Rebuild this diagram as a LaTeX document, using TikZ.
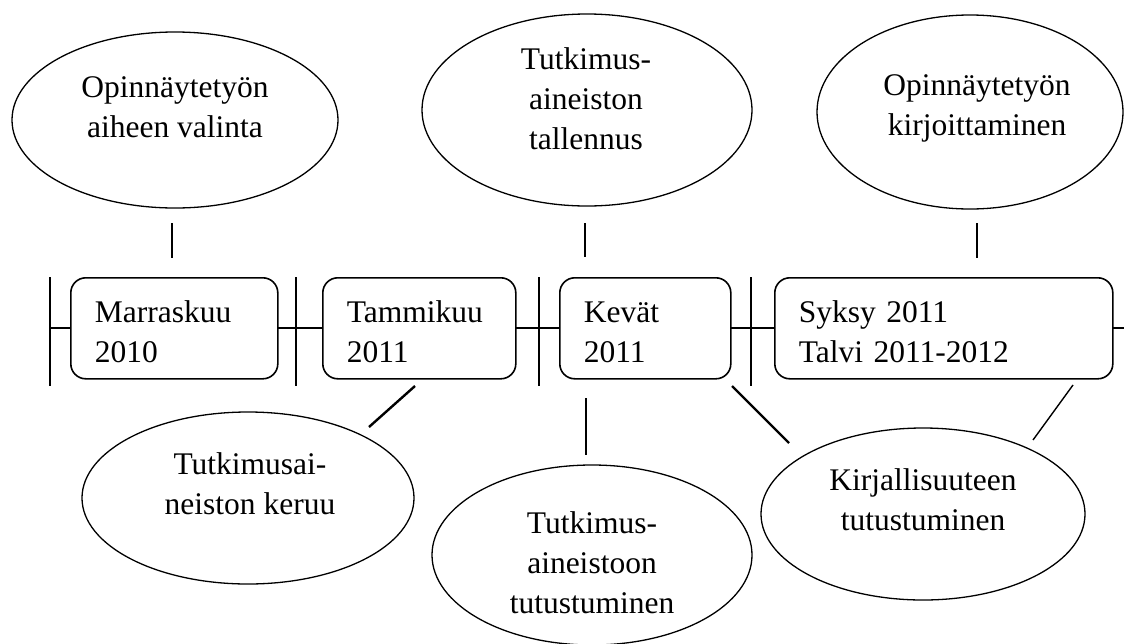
\documentclass[tikz,border=0pt]{standalone}
\usepackage{fontspec}
\setmainfont{Liberation Serif}
\usetikzlibrary{shapes.geometric, positioning}

\tikzset{
  kausi/.style={draw, line width=1.6pt, rounded corners=15pt, fill=white, anchor=north west, minimum height=101pt, inner xsep=24pt, inner ysep=0pt, text depth=33pt, align=left},
  soikio/.style={draw, ellipse, line width=1.3pt, inner sep=0pt},
  teksti/.style={anchor=north, align=center, inner sep=0pt},
  viiva/.style={line width=2.4pt},
}

\begin{document}
\begin{tikzpicture}[x=1pt, y=-1pt, font=\fontsize{31.5}{40}\selectfont]
\useasboundingbox (0,0) rectangle (1124,643);
% aikajana
\draw [line width=1.6pt] (50,328) -- (1124,328);
\foreach \x in {50, 296, 539, 751} \draw [line width=1.6pt] (\x,277) -- (\x,386);
\node [kausi, text width=159pt] (marras) at (70,277) {Marraskuu\\2010};
\node [kausi, text width=145pt] (tammi) at (322,277) {Tammikuu\\2011};
\node [kausi, text width=123pt] (kevat) at (559,277) {Kevät\\2011};
\node [kausi, text width=290pt] (syksy) at (774,277) {Syksy 2011\\Talvi 2011-2012};
% ylarivi
\node [soikio, minimum width=326pt, minimum height=176pt] (aihe) at (175,120) {};
\node [teksti] (aiheT) at (175,76) {Opinnäytetyön\\aiheen valinta};
\node [soikio, minimum width=330pt, minimum height=192pt] (tallennus) at (587,110) {};
\node [teksti] (tallennusT) at (586,47) {Tutkimus-\\aineiston\\tallennus};
\node [soikio, minimum width=306pt, minimum height=194pt] (kirjoitus) at (970,112) {};
\node [teksti] (kirjoitusT) at (977,74) {Opinnäytetyön\\kirjoittaminen};
% alarivi
\node [soikio, minimum width=332pt, minimum height=172pt] (keruu) at (248,498) {};
\node [teksti] (keruuT) at (250,452) {Tutkimusai-\\neiston keruu};
\node [soikio, minimum width=320pt, minimum height=180pt] (aineisto) at (592,555) {};
\node [teksti] (aineistoT) at (592,511) {Tutkimus-\\aineistoon\\tutustuminen};
\node [soikio, minimum width=324pt, minimum height=172pt] (kirjallisuus) at (923,514) {};
\node [teksti] (kirjallisuusT) at (923,468) {Kirjallisuuteen\\tutustuminen};
% yhdysviivat
\coordinate (y1a) at (172,223); \coordinate (y1b) at (172,258);
\coordinate (y2a) at (585,223); \coordinate (y2b) at (585,257);
\coordinate (y3a) at (977,223); \coordinate (y3b) at (977,258);
\coordinate (a1a) at (415,386); \coordinate (a1b) at (369,427);
\coordinate (a2a) at (586,398); \coordinate (a2b) at (586,455);
\coordinate (a3a) at (732,386); \coordinate (a3b) at (789,443);
\coordinate (a4a) at (1073,385); \coordinate (a4b) at (1033,440);
\draw [viiva] (y1a) -- (y1b);
\draw [viiva] (y2a) -- (y2b);
\draw [viiva] (y3a) -- (y3b);
\draw [viiva] (a1a) -- (a1b);
\draw [viiva] (a2a) -- (a2b);
\draw [viiva] (a3a) -- (a3b);
\draw [line width=1.4pt] (a4a) -- (a4b);
\end{tikzpicture}
\end{document}
